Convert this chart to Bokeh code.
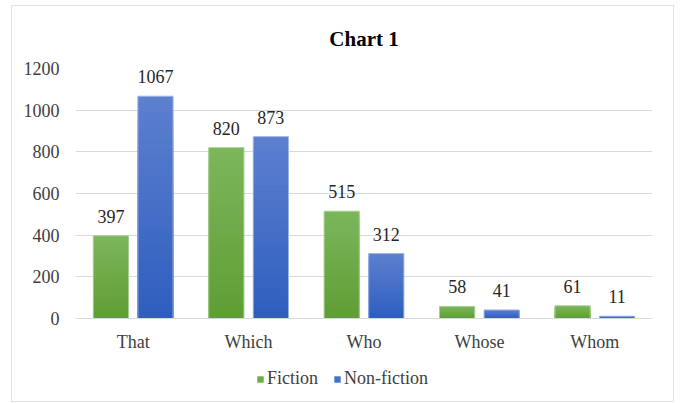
from bokeh.plotting import figure
from bokeh.layouts import column
from bokeh.models import ColumnDataSource, FactorRange, Range1d, Legend, LegendItem, FixedTicker
from bokeh.transform import dodge
from bokeh.embed import file_html
from bokeh.resources import INLINE

categories = ["That", "Which", "Who", "Whose", "Whom"]
fiction = [397, 820, 515, 58, 61]
nonfiction = [1067, 873, 312, 41, 11]
series_names = ["Fiction", "Non-fiction"]
y_ticks = [0, 200, 400, 600, 800, 1000, 1200]

FONT = "Liberation Serif"
N = 30

def lerp(c1, c2, t):
    return "#%02x%02x%02x" % tuple(int(round(a + (b - a) * t)) for a, b in zip(c1, c2))

green_top, green_bot = (0x7c, 0xb6, 0x5c), (0x5f, 0x9e, 0x34)
blue_top, blue_bot = (0x5d, 0x80, 0xcf), (0x2e, 0x5e, 0xbe)

def segments(values, top_c, bot_c):
    xs, tops, cols = [], [], []
    for cat, v in zip(categories, values):
        for i in range(N):
            frac = (N - i) / N
            xs.append(cat)
            tops.append(v * frac)
            cols.append(lerp(bot_c, top_c, frac - 0.5 / N))
    return ColumnDataSource(dict(x=xs, top=tops, color=cols))

p = figure(x_range=FactorRange(*categories), y_range=Range1d(0, 1200),
           width=661, height=352, output_backend="svg", toolbar_location=None,
           min_border_left=63, min_border_right=21, min_border_top=62, min_border_bottom=40)
p.outline_line_color = None
p.background_fill_color = "white"

w = 0.305
off = 0.193
src_f = segments(fiction, green_top, green_bot)
src_n = segments(nonfiction, blue_top, blue_bot)
p.vbar(x=dodge("x", -off, range=p.x_range), top="top", bottom=0, width=w,
       source=src_f, fill_color="color", line_color=None)
p.vbar(x=dodge("x", off, range=p.x_range), top="top", bottom=0, width=w,
       source=src_n, fill_color="color", line_color=None)

bars = ColumnDataSource(dict(x=categories, f=fiction, n=nonfiction,
                             fl=[str(v) for v in fiction], nl=[str(v) for v in nonfiction]))
p.vbar(x=dodge("x", -off, range=p.x_range), top="f", bottom=0, width=w, source=bars,
       fill_color=None, line_color="#a9cf95", line_width=1)
p.vbar(x=dodge("x", off, range=p.x_range), top="n", bottom=0, width=w, source=bars,
       fill_color=None, line_color="#9fb5e6", line_width=1)

p.text(x=dodge("x", -off, range=p.x_range), y="f", text="fl", source=bars,
       text_align="center", text_baseline="bottom", y_offset=-13,
       text_font_size="18px", text_color="#262626", text_font={"value": FONT})
p.text(x=dodge("x", off, range=p.x_range), y="n", text="nl", source=bars,
       text_align="center", text_baseline="bottom", y_offset=-13,
       text_font_size="18px", text_color="#262626", text_font={"value": FONT})

p.title.text = "Chart 1"
p.title.align = "center"
p.title.text_font = FONT
p.title.text_font_size = "21px"
p.title.text_font_style = "bold"
p.title.text_color = "#000000"
p.title.standoff = 36

p.xgrid.grid_line_color = None
p.ygrid.grid_line_color = "#d9d9d9"
p.ygrid.ticker = FixedTicker(ticks=y_ticks)

p.yaxis.ticker = FixedTicker(ticks=y_ticks)
p.yaxis.axis_line_color = None
p.yaxis.major_tick_line_color = None
p.yaxis.minor_tick_line_color = None
p.yaxis.major_tick_out = 0
p.yaxis.major_label_standoff = 16
p.yaxis.major_label_text_font = FONT
p.yaxis.major_label_text_font_size = "18px"
p.yaxis.major_label_text_color = "#404040"

p.xaxis.axis_line_color = "#d9d9d9"
p.xaxis.major_tick_line_color = None
p.xaxis.minor_tick_line_color = None
p.xaxis.major_tick_out = 0
p.xaxis.major_label_standoff = 13
p.xaxis.major_label_text_font = FONT
p.xaxis.major_label_text_font_size = "18px"
p.xaxis.major_label_text_color = "#404040"

# legend strip below the chart
lg = figure(width=661, height=43, output_backend="svg", toolbar_location=None,
            x_range=Range1d(0, 1), y_range=Range1d(0, 1),
            min_border=0)
lg.outline_line_color = None
lg.grid.visible = False
lg.axis.visible = False
r1 = lg.vbar(x=[0.5], top=[0], bottom=[0], width=0.01, fill_color="#6dab47", line_color=None)
r2 = lg.vbar(x=[0.5], top=[0], bottom=[0], width=0.01, fill_color="#4570c8", line_color=None)
legend = Legend(items=[LegendItem(label=series_names[0], renderers=[r1]),
                       LegendItem(label=series_names[1], renderers=[r2])],
                orientation="horizontal", location=(181, 12),
                border_line_color=None, background_fill_alpha=0,
                label_text_font=FONT, label_text_font_size="18px", label_text_color="#404040",
                glyph_width=8, glyph_height=8, spacing=15, label_standoff=3, padding=6, margin=0)
lg.add_layout(legend, "center")

layout = column(p, lg, spacing=0)
layout.styles = {"border": "1px solid #dde1ea", "margin-left": "11px", "margin-top": "5px"}

open("out.html", "w").write(file_html(layout, INLINE))
